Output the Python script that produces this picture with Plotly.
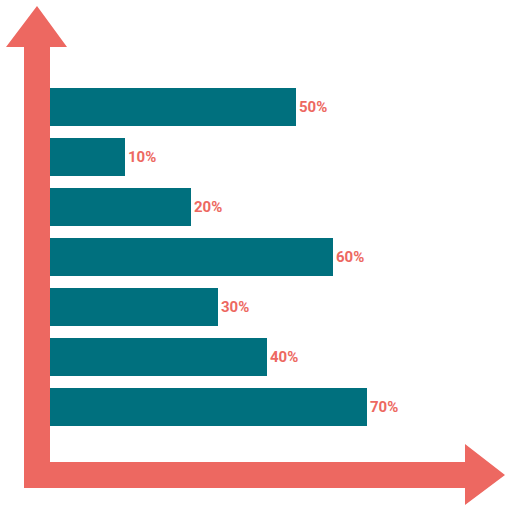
import plotly.graph_objects as go

# bar lengths (arbitrary units) and their printed labels
labels = ["50%", "10%", "20%", "60%", "30%", "40%", "70%"]
lengths = [246, 75, 141, 283, 168, 217, 317]
positions = list(range(len(labels)))

TEAL = "#00707e"
SALMON = "#ed6861"
SIZE = 512


def px_path(points):
    # pixel coordinates (origin top-left) -> paper path
    parts = []
    for i, (x, y) in enumerate(points):
        cmd = "M" if i == 0 else "L"
        parts.append(f"{cmd} {x / SIZE:.5f},{1 - y / SIZE:.5f}")
    return " ".join(parts) + " Z"


arrow = [
    (24, 47), (6, 47), (37, 6), (67, 47), (50, 47), (50, 462),
    (465, 462), (465, 444), (505, 475), (465, 505), (465, 488), (24, 488),
]

fig = go.Figure(
    go.Bar(
        x=lengths,
        y=positions,
        orientation="h",
        width=0.76,
        marker=dict(color=TEAL, line=dict(width=0)),
        text=labels,
        textposition="outside",
        textfont=dict(family="Roboto", size=15, color=SALMON, weight="bold"),
        cliponaxis=False,
        hoverinfo="skip",
    )
)

fig.update_layout(
    width=SIZE,
    height=SIZE,
    margin=dict(l=0, r=0, t=0, b=0),
    paper_bgcolor="white",
    plot_bgcolor="white",
    showlegend=False,
    xaxis=dict(range=[-50, 462], visible=False, fixedrange=True),
    yaxis=dict(range=[8.1, -2.14], visible=False, fixedrange=True),
    shapes=[
        dict(type="path", xref="paper", yref="paper", path=px_path(arrow),
             fillcolor=SALMON, line=dict(width=0), layer="below")
    ],
)

fig.write_html(
    "out.html",
    config={"displayModeBar": False},
    post_script="document.body.style.margin='0';",
)
